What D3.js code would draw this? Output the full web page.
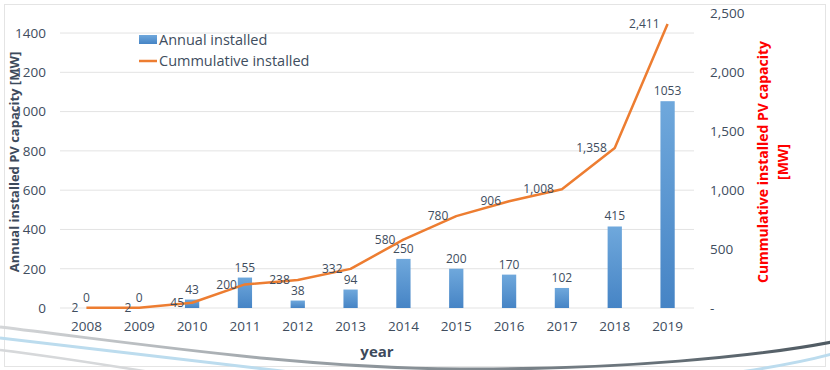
<!DOCTYPE html>
<html>
<head>
<meta charset="utf-8">
<script src="https://cdn.jsdelivr.net/npm/d3@7"></script>
<style>
  body { margin: 0; background: #fff; }
  svg text { font-family: "Open Sans", "Liberation Sans", sans-serif; }
</style>
</head>
<body>
<div id="container"></div>
<script>
// Données
const years = ["2008", "2009", "2010", "2011", "2012", "2013", "2014", "2015", "2016", "2017", "2018", "2019"];
const annual = [0, 0, 43, 155, 38, 94, 250, 200, 170, 102, 415, 1053];
const cumulative = [2, 2, 45, 200, 238, 332, 580, 780, 906, 1008, 1358, 2411];
const leftTicks = [0, 200, 400, 600, 800, 1000, 1200, 1400];
const rightTicks = [0, 500, 1000, 1500, 2000, 2500];

const width = 830;
const height = 370;
const textColor = "#404d5e";

const svg = d3.select("#container")
    .append("svg")
    .attr("width", width)
    .attr("height", height);

// Dégradé des barres
const defs = svg.append("defs");
const grad = defs.append("linearGradient")
    .attr("id", "barGrad")
    .attr("x1", 0).attr("y1", 0).attr("x2", 0).attr("y2", 1);
grad.append("stop").attr("offset", "0%").attr("stop-color", "#6fa8dc");
grad.append("stop").attr("offset", "100%").attr("stop-color", "#4684c5");

const swoosh = defs.append("linearGradient")
    .attr("id", "swooshGrad")
    .attr("x1", 0).attr("y1", 0).attr("x2", 1).attr("y2", 0);
swoosh.append("stop").attr("offset", "0%").attr("stop-color", "#d4d6d8");
swoosh.append("stop").attr("offset", "45%").attr("stop-color", "#8d959b");
swoosh.append("stop").attr("offset", "100%").attr("stop-color", "#4f5a62");

// Cadre
svg.append("rect")
    .attr("x", 4.5).attr("y", 4.5)
    .attr("width", 821).attr("height", 362)
    .attr("fill", "none")
    .attr("stroke", "#e4e4e4");

// Décor du bas
svg.append("path")
    .attr("d", "M0,327 C150,345 300,368 460,369 C620,370 760,356 832,342")
    .attr("fill", "none").attr("stroke", "url(#swooshGrad)").attr("stroke-width", 3);
svg.append("path")
    .attr("d", "M0,338 C90,348 200,362 290,372")
    .attr("fill", "none").attr("stroke", "#bcdcee").attr("stroke-width", 3);
svg.append("path")
    .attr("d", "M0,350 C50,356 100,364 150,372")
    .attr("fill", "none").attr("stroke", "#d6d8da").attr("stroke-width", 2.5);
svg.append("path")
    .attr("d", "M740,372 C780,366 810,360 832,354")
    .attr("fill", "none").attr("stroke", "#bcdcee").attr("stroke-width", 3);

// Échelles
const x = d3.scaleBand().domain(years).range([60, 694]).padding(0);
const yL = d3.scaleLinear().domain([0, 1500]).range([308, 13.4]);
const yR = d3.scaleLinear().domain([0, 2500]).range([308, 13.4]);
const cx = d => x(d) + x.bandwidth() / 2;

// Grille
svg.append("g")
    .selectAll("line")
    .data(leftTicks)
    .join("line")
    .attr("x1", 60).attr("x2", 694)
    .attr("y1", d => yL(d)).attr("y2", d => yL(d))
    .attr("stroke", "#e3e3e3")
    .attr("stroke-width", 1);

// Axe gauche
const axisL = svg.append("g")
    .attr("transform", "translate(60,0)")
    .call(d3.axisLeft(yL).tickValues(leftTicks).tickSize(0).tickPadding(14).tickFormat(d3.format("d")));
axisL.select(".domain").remove();
axisL.selectAll("text")
    .attr("fill", textColor)
    .style("font-size", "13.5px");

// Axe droit
const axisR = svg.append("g")
    .attr("transform", "translate(694,0)")
    .call(d3.axisRight(yR).tickValues(rightTicks).tickSize(0).tickPadding(16)
        .tickFormat(d => d === 0 ? "-" : d3.format(",")(d)));
axisR.select(".domain").remove();
axisR.selectAll("text")
    .attr("fill", textColor)
    .style("font-size", "13.5px");

// Axe x
const axisX = svg.append("g")
    .attr("transform", "translate(0,308)")
    .call(d3.axisBottom(x).tickSize(0).tickPadding(13));
axisX.select(".domain").remove();
axisX.selectAll("text")
    .attr("fill", textColor)
    .style("font-size", "13.5px");

// Barres
const barW = x.bandwidth() * 0.27;
svg.append("g")
    .selectAll("rect")
    .data(years)
    .join("rect")
    .attr("x", d => cx(d) - barW / 2)
    .attr("y", (d, i) => yL(annual[i]))
    .attr("width", barW)
    .attr("height", (d, i) => yL(0) - yL(annual[i]))
    .attr("fill", "url(#barGrad)");

// Étiquettes des barres
svg.append("g")
    .selectAll("text")
    .data(years)
    .join("text")
    .attr("x", d => cx(d))
    .attr("y", (d, i) => yL(annual[i]) - 6)
    .attr("text-anchor", "middle")
    .attr("fill", textColor)
    .style("font-size", "12px")
    .text((d, i) => annual[i]);

// Courbe cumulée
const line = d3.line()
    .x((d, i) => cx(years[i]))
    .y(d => yR(d));
svg.append("path")
    .datum(cumulative)
    .attr("d", line)
    .attr("fill", "none")
    .attr("stroke", "#ed7d31")
    .attr("stroke-width", 2.5)
    .attr("stroke-linejoin", "round");

svg.append("g")
    .selectAll("text")
    .data(cumulative)
    .join("text")
    .attr("x", (d, i) => cx(years[i]) - 8)
    .attr("y", d => yR(d))
    .attr("dy", "0.35em")
    .attr("text-anchor", "end")
    .attr("fill", textColor)
    .style("font-size", "12px")
    .text(d => d3.format(",")(d));

// Titres des axes
svg.append("text")
    .attr("transform", "translate(19,162) rotate(-90)")
    .attr("text-anchor", "middle")
    .attr("fill", "#3d4a5c")
    .style("font-size", "13px")
    .style("font-weight", "bold")
    .text("Annual installed PV capacity [MW]");

svg.append("text")
    .attr("transform", "translate(768,162) rotate(-90)")
    .attr("text-anchor", "middle")
    .attr("fill", "#ff0000")
    .style("font-size", "14px")
    .style("font-weight", "bold")
    .text("Cummulative installed PV capacity");

svg.append("text")
    .attr("transform", "translate(788,162) rotate(-90)")
    .attr("text-anchor", "middle")
    .attr("fill", "#ff0000")
    .style("font-size", "14px")
    .style("font-weight", "bold")
    .text("[MW]");

svg.append("text")
    .attr("x", 377)
    .attr("y", 357)
    .attr("text-anchor", "middle")
    .attr("fill", "#3d4a5c")
    .style("font-size", "15px")
    .style("font-weight", "bold")
    .text("year");

// Légende
const legend = svg.append("g");
legend.append("rect")
    .attr("x", 139).attr("y", 35)
    .attr("width", 18).attr("height", 9)
    .attr("fill", "url(#barGrad)");
legend.append("text")
    .attr("x", 159).attr("y", 40).attr("dy", "0.35em")
    .attr("fill", textColor)
    .style("font-size", "14.5px")
    .text("Annual installed");
legend.append("line")
    .attr("x1", 139).attr("x2", 157)
    .attr("y1", 61).attr("y2", 61)
    .attr("stroke", "#ed7d31")
    .attr("stroke-width", 2.5);
legend.append("text")
    .attr("x", 159).attr("y", 61).attr("dy", "0.35em")
    .attr("fill", textColor)
    .style("font-size", "14.5px")
    .text("Cummulative installed");
</script>
</body>
</html>
